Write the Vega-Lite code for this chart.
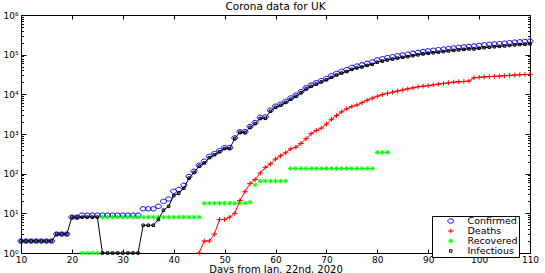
{
"$schema": "https://vega.github.io/schema/vega-lite/v6.json",
"width": 509, "height": 238,
"autosize": "none",
"padding": {"left": 21, "top": 15, "right": 15, "bottom": 20},
"background": "white",
"config": {
  "font": "DejaVu Sans",
  "view": {"stroke": "black", "strokeWidth": 1},
  "axis": {"grid": false, "domainColor": "black", "tickColor": "black", "labelColor": "black", "titleColor": "black", "labelFont": "DejaVu Sans", "labelFontSize": 9, "titleFont": "DejaVu Sans", "titleFontWeight": "normal", "titleFontSize": 10, "tickWidth": 1, "domainWidth": 1},
  "legend": {"orient": "none", "legendX": 411, "legendY": 201, "strokeColor": "black", "fillColor": "white", "padding": 1, "labelFontSize": 9.5, "labelFont": "DejaVu Sans", "labelColor": "black", "rowPadding": 0, "clipHeight": 8, "symbolOffset": 13, "labelOffset": 12, "symbolStrokeWidth": 1, "cornerRadius": 0, "labelBaseline": "middle"}
},
"title": {"text": "Corona data for UK", "fontSize": 10.5, "fontWeight": "normal", "font": "DejaVu Sans", "color": "black", "anchor": "middle", "offset": 3, "dy": 4},
"data": {"values": [
{"day":10,"series":"Confirmed","value":2},{"day":11,"series":"Confirmed","value":2},{"day":12,"series":"Confirmed","value":2},{"day":13,"series":"Confirmed","value":2},{"day":14,"series":"Confirmed","value":2},{"day":15,"series":"Confirmed","value":2},{"day":16,"series":"Confirmed","value":2},{"day":17,"series":"Confirmed","value":3},{"day":18,"series":"Confirmed","value":3},{"day":19,"series":"Confirmed","value":3},{"day":20,"series":"Confirmed","value":8},{"day":21,"series":"Confirmed","value":8},{"day":22,"series":"Confirmed","value":9},{"day":23,"series":"Confirmed","value":9},{"day":24,"series":"Confirmed","value":9},{"day":25,"series":"Confirmed","value":9},{"day":26,"series":"Confirmed","value":9},{"day":27,"series":"Confirmed","value":9},{"day":28,"series":"Confirmed","value":9},{"day":29,"series":"Confirmed","value":9},{"day":30,"series":"Confirmed","value":9},{"day":31,"series":"Confirmed","value":9},{"day":32,"series":"Confirmed","value":9},{"day":33,"series":"Confirmed","value":9},{"day":34,"series":"Confirmed","value":13},{"day":35,"series":"Confirmed","value":13},{"day":36,"series":"Confirmed","value":13},{"day":37,"series":"Confirmed","value":15},{"day":38,"series":"Confirmed","value":20},{"day":39,"series":"Confirmed","value":23},{"day":40,"series":"Confirmed","value":36},{"day":41,"series":"Confirmed","value":40},{"day":42,"series":"Confirmed","value":51},{"day":43,"series":"Confirmed","value":85},{"day":44,"series":"Confirmed","value":115},{"day":45,"series":"Confirmed","value":163},{"day":46,"series":"Confirmed","value":206},{"day":47,"series":"Confirmed","value":273},{"day":48,"series":"Confirmed","value":321},{"day":49,"series":"Confirmed","value":382},{"day":50,"series":"Confirmed","value":456},{"day":51,"series":"Confirmed","value":456},{"day":52,"series":"Confirmed","value":798},{"day":53,"series":"Confirmed","value":1140},{"day":54,"series":"Confirmed","value":1140},{"day":55,"series":"Confirmed","value":1543},{"day":56,"series":"Confirmed","value":1950},{"day":57,"series":"Confirmed","value":2626},{"day":58,"series":"Confirmed","value":2689},{"day":59,"series":"Confirmed","value":3983},{"day":60,"series":"Confirmed","value":5018},{"day":61,"series":"Confirmed","value":5683},{"day":62,"series":"Confirmed","value":6650},{"day":63,"series":"Confirmed","value":8077},{"day":64,"series":"Confirmed","value":9529},{"day":65,"series":"Confirmed","value":11658},{"day":66,"series":"Confirmed","value":14543},{"day":67,"series":"Confirmed","value":17089},{"day":68,"series":"Confirmed","value":19522},{"day":69,"series":"Confirmed","value":22141},{"day":70,"series":"Confirmed","value":25150},{"day":71,"series":"Confirmed","value":29474},{"day":72,"series":"Confirmed","value":33718},{"day":73,"series":"Confirmed","value":38168},{"day":74,"series":"Confirmed","value":41903},{"day":75,"series":"Confirmed","value":47806},{"day":76,"series":"Confirmed","value":51608},{"day":77,"series":"Confirmed","value":55242},{"day":78,"series":"Confirmed","value":60733},{"day":79,"series":"Confirmed","value":65077},{"day":80,"series":"Confirmed","value":73758},{"day":81,"series":"Confirmed","value":78991},{"day":82,"series":"Confirmed","value":84279},{"day":83,"series":"Confirmed","value":88621},{"day":84,"series":"Confirmed","value":93873},{"day":85,"series":"Confirmed","value":98476},{"day":86,"series":"Confirmed","value":103093},{"day":87,"series":"Confirmed","value":108692},{"day":88,"series":"Confirmed","value":114217},{"day":89,"series":"Confirmed","value":120067},{"day":90,"series":"Confirmed","value":124743},{"day":91,"series":"Confirmed","value":129044},{"day":92,"series":"Confirmed","value":133495},{"day":93,"series":"Confirmed","value":138078},{"day":94,"series":"Confirmed","value":143464},{"day":95,"series":"Confirmed","value":148377},{"day":96,"series":"Confirmed","value":152840},{"day":97,"series":"Confirmed","value":157149},{"day":98,"series":"Confirmed","value":161145},{"day":99,"series":"Confirmed","value":165221},{"day":100,"series":"Confirmed","value":171253},{"day":101,"series":"Confirmed","value":177454},{"day":102,"series":"Confirmed","value":182260},{"day":103,"series":"Confirmed","value":186599},{"day":104,"series":"Confirmed","value":190584},{"day":105,"series":"Confirmed","value":194990},{"day":106,"series":"Confirmed","value":201101},{"day":107,"series":"Confirmed","value":206715},{"day":108,"series":"Confirmed","value":211364},{"day":109,"series":"Confirmed","value":215260},{"day":110,"series":"Confirmed","value":219183},
{"day":45,"series":"Deaths","value":1},{"day":46,"series":"Deaths","value":2},{"day":47,"series":"Deaths","value":2},{"day":48,"series":"Deaths","value":3},{"day":49,"series":"Deaths","value":7},{"day":50,"series":"Deaths","value":7},{"day":51,"series":"Deaths","value":8},{"day":52,"series":"Deaths","value":10},{"day":53,"series":"Deaths","value":21},{"day":54,"series":"Deaths","value":35},{"day":55,"series":"Deaths","value":56},{"day":56,"series":"Deaths","value":71},{"day":57,"series":"Deaths","value":104},{"day":58,"series":"Deaths","value":144},{"day":59,"series":"Deaths","value":177},{"day":60,"series":"Deaths","value":233},{"day":61,"series":"Deaths","value":281},{"day":62,"series":"Deaths","value":335},{"day":63,"series":"Deaths","value":422},{"day":64,"series":"Deaths","value":465},{"day":65,"series":"Deaths","value":578},{"day":66,"series":"Deaths","value":759},{"day":67,"series":"Deaths","value":1019},{"day":68,"series":"Deaths","value":1228},{"day":69,"series":"Deaths","value":1408},{"day":70,"series":"Deaths","value":1789},{"day":71,"series":"Deaths","value":2352},{"day":72,"series":"Deaths","value":2921},{"day":73,"series":"Deaths","value":3605},{"day":74,"series":"Deaths","value":4313},{"day":75,"series":"Deaths","value":4934},{"day":76,"series":"Deaths","value":5373},{"day":77,"series":"Deaths","value":6159},{"day":78,"series":"Deaths","value":7097},{"day":79,"series":"Deaths","value":7978},{"day":80,"series":"Deaths","value":8958},{"day":81,"series":"Deaths","value":9875},{"day":82,"series":"Deaths","value":10612},{"day":83,"series":"Deaths","value":11329},{"day":84,"series":"Deaths","value":12107},{"day":85,"series":"Deaths","value":12868},{"day":86,"series":"Deaths","value":13729},{"day":87,"series":"Deaths","value":14576},{"day":88,"series":"Deaths","value":15464},{"day":89,"series":"Deaths","value":16060},{"day":90,"series":"Deaths","value":16509},{"day":91,"series":"Deaths","value":17337},{"day":92,"series":"Deaths","value":18100},{"day":93,"series":"Deaths","value":18738},{"day":94,"series":"Deaths","value":19506},{"day":95,"series":"Deaths","value":20319},{"day":96,"series":"Deaths","value":20732},{"day":97,"series":"Deaths","value":21092},{"day":98,"series":"Deaths","value":21678},{"day":99,"series":"Deaths","value":26097},{"day":100,"series":"Deaths","value":26771},{"day":101,"series":"Deaths","value":27510},{"day":102,"series":"Deaths","value":28131},{"day":103,"series":"Deaths","value":28446},{"day":104,"series":"Deaths","value":28734},{"day":105,"series":"Deaths","value":29427},{"day":106,"series":"Deaths","value":30076},{"day":107,"series":"Deaths","value":30615},{"day":108,"series":"Deaths","value":31241},{"day":109,"series":"Deaths","value":31587},{"day":110,"series":"Deaths","value":31855},
{"day":22,"series":"Recovered","value":1},{"day":23,"series":"Recovered","value":1},{"day":24,"series":"Recovered","value":1},{"day":25,"series":"Recovered","value":1},{"day":26,"series":"Recovered","value":8},{"day":27,"series":"Recovered","value":8},{"day":28,"series":"Recovered","value":8},{"day":29,"series":"Recovered","value":8},{"day":30,"series":"Recovered","value":8},{"day":31,"series":"Recovered","value":8},{"day":32,"series":"Recovered","value":8},{"day":33,"series":"Recovered","value":8},{"day":34,"series":"Recovered","value":8},{"day":35,"series":"Recovered","value":8},{"day":36,"series":"Recovered","value":8},{"day":37,"series":"Recovered","value":8},{"day":38,"series":"Recovered","value":8},{"day":39,"series":"Recovered","value":8},{"day":40,"series":"Recovered","value":8},{"day":41,"series":"Recovered","value":8},{"day":42,"series":"Recovered","value":8},{"day":43,"series":"Recovered","value":8},{"day":44,"series":"Recovered","value":8},{"day":45,"series":"Recovered","value":8},{"day":46,"series":"Recovered","value":18},{"day":47,"series":"Recovered","value":18},{"day":48,"series":"Recovered","value":18},{"day":49,"series":"Recovered","value":18},{"day":50,"series":"Recovered","value":18},{"day":51,"series":"Recovered","value":18},{"day":52,"series":"Recovered","value":18},{"day":53,"series":"Recovered","value":18},{"day":54,"series":"Recovered","value":18},{"day":55,"series":"Recovered","value":19},{"day":56,"series":"Recovered","value":52},{"day":57,"series":"Recovered","value":65},{"day":58,"series":"Recovered","value":65},{"day":59,"series":"Recovered","value":65},{"day":60,"series":"Recovered","value":65},{"day":61,"series":"Recovered","value":65},{"day":62,"series":"Recovered","value":65},{"day":63,"series":"Recovered","value":135},{"day":64,"series":"Recovered","value":135},{"day":65,"series":"Recovered","value":135},{"day":66,"series":"Recovered","value":135},{"day":67,"series":"Recovered","value":135},{"day":68,"series":"Recovered","value":135},{"day":69,"series":"Recovered","value":135},{"day":70,"series":"Recovered","value":135},{"day":71,"series":"Recovered","value":135},{"day":72,"series":"Recovered","value":135},{"day":73,"series":"Recovered","value":135},{"day":74,"series":"Recovered","value":135},{"day":75,"series":"Recovered","value":135},{"day":76,"series":"Recovered","value":135},{"day":77,"series":"Recovered","value":135},{"day":78,"series":"Recovered","value":135},{"day":79,"series":"Recovered","value":135},{"day":80,"series":"Recovered","value":344},{"day":81,"series":"Recovered","value":344},{"day":82,"series":"Recovered","value":344},
{"day":10,"series":"Infectious","value":2},{"day":11,"series":"Infectious","value":2},{"day":12,"series":"Infectious","value":2},{"day":13,"series":"Infectious","value":2},{"day":14,"series":"Infectious","value":2},{"day":15,"series":"Infectious","value":2},{"day":16,"series":"Infectious","value":2},{"day":17,"series":"Infectious","value":3},{"day":18,"series":"Infectious","value":3},{"day":19,"series":"Infectious","value":3},{"day":20,"series":"Infectious","value":8},{"day":21,"series":"Infectious","value":8},{"day":22,"series":"Infectious","value":8},{"day":23,"series":"Infectious","value":8},{"day":24,"series":"Infectious","value":8},{"day":25,"series":"Infectious","value":8},{"day":26,"series":"Infectious","value":1},{"day":27,"series":"Infectious","value":1},{"day":28,"series":"Infectious","value":1},{"day":29,"series":"Infectious","value":1},{"day":30,"series":"Infectious","value":1},{"day":31,"series":"Infectious","value":1},{"day":32,"series":"Infectious","value":1},{"day":33,"series":"Infectious","value":1},{"day":34,"series":"Infectious","value":5},{"day":35,"series":"Infectious","value":5},{"day":36,"series":"Infectious","value":5},{"day":37,"series":"Infectious","value":7},{"day":38,"series":"Infectious","value":12},{"day":39,"series":"Infectious","value":15},{"day":40,"series":"Infectious","value":28},{"day":41,"series":"Infectious","value":32},{"day":42,"series":"Infectious","value":43},{"day":43,"series":"Infectious","value":77},{"day":44,"series":"Infectious","value":107},{"day":45,"series":"Infectious","value":154},{"day":46,"series":"Infectious","value":186},{"day":47,"series":"Infectious","value":253},{"day":48,"series":"Infectious","value":300},{"day":49,"series":"Infectious","value":357},{"day":50,"series":"Infectious","value":431},{"day":51,"series":"Infectious","value":430},{"day":52,"series":"Infectious","value":770},{"day":53,"series":"Infectious","value":1101},{"day":54,"series":"Infectious","value":1087},{"day":55,"series":"Infectious","value":1468},{"day":56,"series":"Infectious","value":1827},{"day":57,"series":"Infectious","value":2457},{"day":58,"series":"Infectious","value":2480},{"day":59,"series":"Infectious","value":3741},{"day":60,"series":"Infectious","value":4720},{"day":61,"series":"Infectious","value":5337},{"day":62,"series":"Infectious","value":6250},{"day":63,"series":"Infectious","value":7520},{"day":64,"series":"Infectious","value":8929},{"day":65,"series":"Infectious","value":10945},{"day":66,"series":"Infectious","value":13649},{"day":67,"series":"Infectious","value":15935},{"day":68,"series":"Infectious","value":18159},{"day":69,"series":"Infectious","value":20598},{"day":70,"series":"Infectious","value":23226},{"day":71,"series":"Infectious","value":26987},{"day":72,"series":"Infectious","value":30662},{"day":73,"series":"Infectious","value":34428},{"day":74,"series":"Infectious","value":37455},{"day":75,"series":"Infectious","value":42737},{"day":76,"series":"Infectious","value":46100},{"day":77,"series":"Infectious","value":48948},{"day":78,"series":"Infectious","value":53501},{"day":79,"series":"Infectious","value":56964},{"day":80,"series":"Infectious","value":64456},{"day":81,"series":"Infectious","value":68772},{"day":82,"series":"Infectious","value":73323},{"day":83,"series":"Infectious","value":77292},{"day":84,"series":"Infectious","value":81766},{"day":85,"series":"Infectious","value":85608},{"day":86,"series":"Infectious","value":89364},{"day":87,"series":"Infectious","value":94116},{"day":88,"series":"Infectious","value":98753},{"day":89,"series":"Infectious","value":104007},{"day":90,"series":"Infectious","value":108234},{"day":91,"series":"Infectious","value":111707},{"day":92,"series":"Infectious","value":115395},{"day":93,"series":"Infectious","value":119340},{"day":94,"series":"Infectious","value":123958},{"day":95,"series":"Infectious","value":128058},{"day":96,"series":"Infectious","value":132108},{"day":97,"series":"Infectious","value":136057},{"day":98,"series":"Infectious","value":139467},{"day":99,"series":"Infectious","value":139124},{"day":100,"series":"Infectious","value":144482},{"day":101,"series":"Infectious","value":149944},{"day":102,"series":"Infectious","value":154129},{"day":103,"series":"Infectious","value":158153},{"day":104,"series":"Infectious","value":161850},{"day":105,"series":"Infectious","value":165563},{"day":106,"series":"Infectious","value":171025},{"day":107,"series":"Infectious","value":176100},{"day":108,"series":"Infectious","value":180123},{"day":109,"series":"Infectious","value":183673},{"day":110,"series":"Infectious","value":187328}
]},
"layer": [
  {
    "encoding": {
      "x": {"field": "day", "type": "quantitative", "scale": {"domain": [10, 110], "nice": false, "zero": false},
            "axis": {"orient": "bottom", "values": [10,20,30,40,50,60,70,80,90,100,110], "tickSize": -4, "labelPadding": 6, "title": "Days from Jan. 22nd, 2020", "titlePadding": 0, "labelFlush": false}},
      "y": {"field": "value", "type": "quantitative", "scale": {"type": "log", "domain": [1, 1000000], "nice": false},
            "axis": {"orient": "left", "title": null, "labelOverlap": false, "labelPadding": 8,
                     "values": [1,2,3,4,5,6,7,8,9,10,20,30,40,50,60,70,80,90,100,200,300,400,500,600,700,800,900,1000,2000,3000,4000,5000,6000,7000,8000,9000,10000,20000,30000,40000,50000,60000,70000,80000,90000,100000,200000,300000,400000,500000,600000,700000,800000,900000,1000000],
                     "labelExpr": "indexof([1,10,100,1000,10000,100000,1000000], datum.value) >= 0 ? '10' + ['⁰','¹','²','³','⁴','⁵','⁶'][round(log(datum.value)/LN10)] : ''",
                     "tickSize": {"condition": {"test": "indexof([1,10,100,1000,10000,100000,1000000], datum.value) >= 0", "value": -5}, "value": -2.5}}}
    },
    "layer": [
      {
        "mark": {"type": "point", "filled": false, "strokeWidth": 1, "opacity": 1},
        "encoding": {
          "color": {"field": "series", "type": "nominal", "scale": {"domain": ["Confirmed","Deaths","Recovered","Infectious"], "range": ["#0000ff","#ff0000","#00ff00","#000000"]}, "legend": {"title": null}},
          "shape": {"field": "series", "type": "nominal", "scale": {"domain": ["Confirmed","Deaths","Recovered","Infectious"], "range": ["M-1,0A1,0.72,0,1,1,1,0A1,0.72,0,1,1,-1,0Z", "M-1,0L1,0M0,-0.85L0,0.85", "M-1,0L1,0M0,-0.85L0,0.85M-0.7,-0.6L0.7,0.6M-0.7,0.6L0.7,-0.6", "M-0.5,-0.5H0.5V0.5H-0.5Z"]}, "legend": {"title": null}},
          "size": {"field": "series", "type": "nominal", "scale": {"domain": ["Confirmed","Deaths","Recovered","Infectious"], "range": [36, 25, 20, 4]}, "legend": {"title": null}}
        }
      },
      {
        "transform": [{"filter": "datum.series === 'Deaths'"}],
        "mark": {"type": "line", "color": "#ff0000", "strokeWidth": 1},
        "encoding": {}
      },
      {
        "transform": [{"filter": "datum.series === 'Infectious'"}],
        "mark": {"type": "line", "color": "#000000", "strokeWidth": 1},
        "encoding": {}
      }
    ]
  },
  {
    "mark": {"type": "point", "opacity": 0},
    "encoding": {
      "x": {"field": "day", "type": "quantitative", "scale": {"domain": [10, 110], "nice": false, "zero": false},
            "axis": {"orient": "top", "values": [10,20,30,40,50,60,70,80,90,100,110], "tickSize": -4, "labels": false, "title": null, "domain": false}},
      "y": {"field": "value", "type": "quantitative", "scale": {"type": "log", "domain": [1, 1000000], "nice": false},
            "axis": {"orient": "right", "title": null, "labels": false, "domain": false,
                     "values": [1,2,3,4,5,6,7,8,9,10,20,30,40,50,60,70,80,90,100,200,300,400,500,600,700,800,900,1000,2000,3000,4000,5000,6000,7000,8000,9000,10000,20000,30000,40000,50000,60000,70000,80000,90000,100000,200000,300000,400000,500000,600000,700000,800000,900000,1000000],
                     "tickSize": {"condition": {"test": "indexof([1,10,100,1000,10000,100000,1000000], datum.value) >= 0", "value": -5}, "value": -2.5}}}
    }
  }
],
"resolve": {"axis": {"x": "independent", "y": "independent"}}
}
